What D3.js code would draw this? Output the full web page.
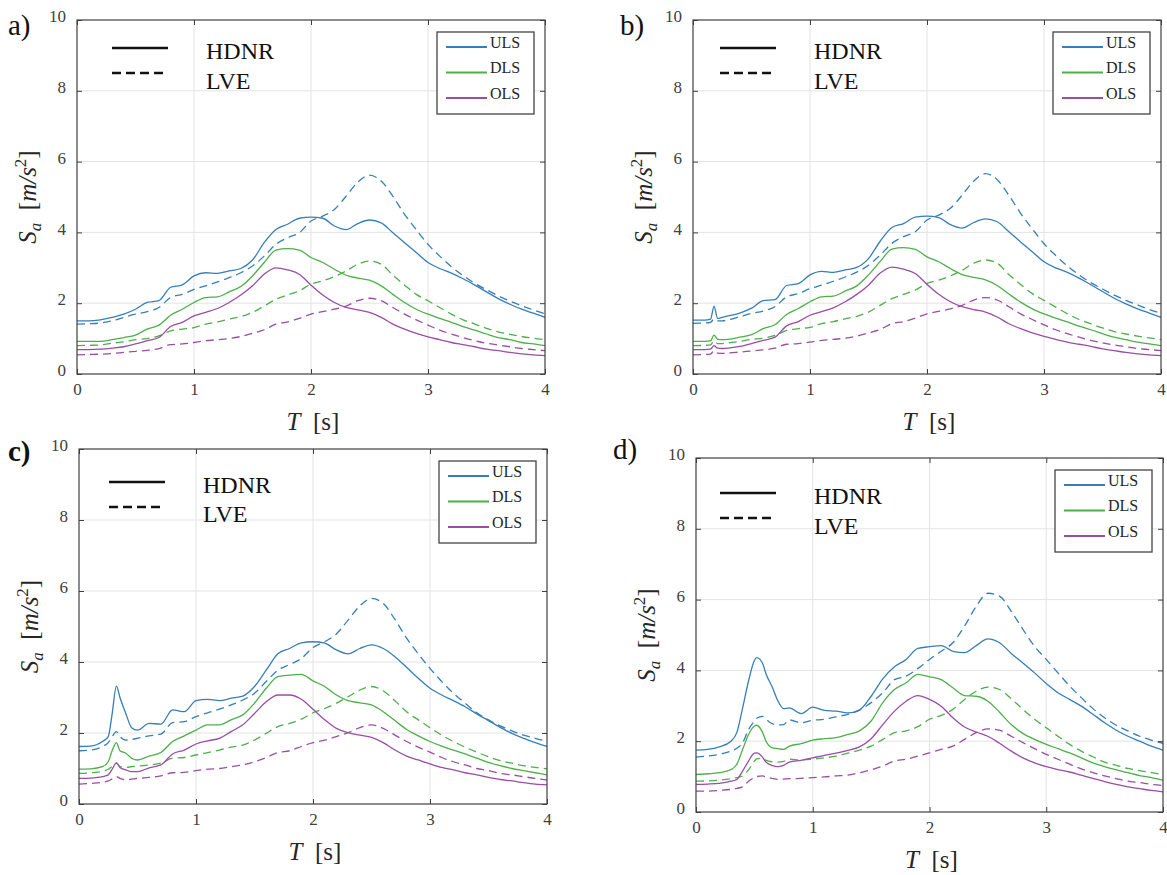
<!DOCTYPE html>
<html>
<head>
<meta charset="utf-8">
<script src="https://cdn.jsdelivr.net/npm/d3@7"></script>
<style>
	body { margin: 0; background: #fff; }
	.tick line { stroke: #404040; }
</style>
</head>
<body>
<div id="chart"></div>
<script>
// spectral acceleration Sa [m/s2] vs period T [s]
var limit_states = ["ULS", "DLS", "OLS"];
var state_colors = ["#377eb8", "#4daf4a", "#984ea3"];
var models = ["HDNR", "LVE"];
var x_ticks = [0, 1, 2, 3, 4];
var y_ticks = [0, 2, 4, 6, 8, 10];

// ---- panel a ----
var periods_a = [0,0.1,0.2,0.3,0.4,0.5,0.6,0.7,0.8,0.9,1,1.1,1.2,1.3,1.4,1.5,1.6,1.7,1.8,1.9,2,2.1,2.2,2.3,2.4,2.5,2.6,2.7,2.8,2.9,3,3.1,3.2,3.3,3.4,3.5,3.6,3.7,3.8,3.9,4];
var a_uls_hdnr = [1.50,1.50,1.53,1.60,1.69,1.83,2.02,2.07,2.45,2.52,2.77,2.86,2.84,2.91,2.98,3.22,3.71,4.08,4.23,4.40,4.43,4.40,4.18,4.08,4.25,4.35,4.27,3.99,3.71,3.43,3.15,2.98,2.85,2.69,2.51,2.32,2.13,1.97,1.83,1.72,1.60];
var a_uls_lve  = [1.41,1.42,1.44,1.50,1.60,1.69,1.76,1.88,2.16,2.25,2.39,2.49,2.60,2.72,2.86,3.05,3.33,3.66,3.85,3.99,4.32,4.46,4.65,5.02,5.42,5.62,5.45,5.02,4.51,4.08,3.66,3.33,3.03,2.78,2.56,2.38,2.21,2.06,1.93,1.81,1.70];
var a_dls_hdnr = [0.92,0.92,0.92,0.97,1.03,1.10,1.27,1.38,1.66,1.83,2.02,2.16,2.18,2.32,2.47,2.77,3.15,3.50,3.54,3.50,3.29,3.15,2.96,2.79,2.71,2.65,2.49,2.25,2.02,1.83,1.69,1.57,1.46,1.34,1.24,1.13,1.03,0.97,0.89,0.85,0.80];
var a_dls_lve  = [0.80,0.81,0.82,0.87,0.91,0.97,1.00,1.08,1.22,1.27,1.31,1.41,1.47,1.55,1.62,1.74,1.92,2.11,2.23,2.35,2.54,2.63,2.75,2.91,3.10,3.19,3.10,2.79,2.51,2.25,2.07,1.88,1.69,1.53,1.41,1.29,1.19,1.12,1.06,1.01,0.97];
var a_ols_hdnr = [0.69,0.69,0.70,0.73,0.77,0.85,0.94,1.03,1.34,1.46,1.64,1.74,1.85,2.02,2.23,2.49,2.82,3.00,2.94,2.82,2.51,2.23,2.02,1.88,1.81,1.74,1.60,1.41,1.27,1.15,1.05,0.97,0.89,0.83,0.77,0.70,0.66,0.61,0.57,0.54,0.52];
var a_ols_lve  = [0.54,0.55,0.56,0.58,0.61,0.64,0.67,0.72,0.83,0.85,0.89,0.94,0.97,1.00,1.06,1.15,1.25,1.41,1.47,1.57,1.69,1.76,1.83,1.92,2.07,2.14,2.07,1.88,1.69,1.53,1.38,1.24,1.13,1.03,0.94,0.87,0.82,0.77,0.72,0.69,0.66];

// ---- panel b ----
var periods_b = [0,0.1,0.15,0.18,0.21,0.25,0.3,0.4,0.5,0.6,0.7,0.8,0.9,1,1.1,1.2,1.3,1.4,1.5,1.6,1.7,1.8,1.9,2,2.1,2.2,2.3,2.4,2.5,2.6,2.7,2.8,2.9,3,3.1,3.2,3.3,3.4,3.5,3.6,3.7,3.8,3.9,4];
var b_uls_hdnr = [1.52,1.52,1.55,1.92,1.57,1.60,1.64,1.72,1.86,2.07,2.10,2.50,2.55,2.80,2.90,2.87,2.94,3.01,3.26,3.75,4.14,4.25,4.43,4.46,4.42,4.22,4.12,4.28,4.38,4.30,4.02,3.73,3.45,3.17,3.00,2.87,2.71,2.52,2.33,2.14,1.98,1.84,1.72,1.60];
var b_uls_lve  = [1.43,1.44,1.46,1.55,1.50,1.50,1.53,1.62,1.71,1.78,1.90,2.18,2.27,2.41,2.51,2.62,2.74,2.88,3.07,3.36,3.69,3.88,4.02,4.35,4.49,4.68,5.05,5.45,5.66,5.49,5.05,4.54,4.10,3.68,3.35,3.05,2.80,2.58,2.40,2.23,2.08,1.95,1.82,1.72];
var b_dls_hdnr = [0.92,0.92,0.94,1.10,0.98,0.97,0.98,1.04,1.11,1.28,1.39,1.68,1.85,2.04,2.18,2.20,2.34,2.49,2.80,3.18,3.53,3.57,3.52,3.31,3.17,2.98,2.81,2.73,2.66,2.50,2.26,2.03,1.84,1.70,1.58,1.47,1.35,1.25,1.14,1.04,0.97,0.90,0.85,0.80];
var b_dls_lve  = [0.80,0.81,0.82,0.94,0.86,0.86,0.88,0.92,0.98,1.01,1.09,1.23,1.28,1.32,1.42,1.48,1.56,1.63,1.75,1.94,2.13,2.25,2.37,2.56,2.65,2.77,2.93,3.13,3.22,3.13,2.81,2.53,2.27,2.08,1.89,1.70,1.54,1.42,1.30,1.20,1.13,1.07,1.02,0.97];
var b_ols_hdnr = [0.69,0.69,0.70,0.80,0.73,0.72,0.73,0.78,0.86,0.95,1.04,1.36,1.48,1.66,1.76,1.87,2.04,2.25,2.51,2.85,3.02,2.96,2.84,2.53,2.25,2.04,1.90,1.82,1.75,1.61,1.42,1.28,1.16,1.06,0.98,0.90,0.84,0.78,0.71,0.66,0.61,0.57,0.54,0.52];
var b_ols_lve  = [0.54,0.55,0.56,0.66,0.59,0.58,0.59,0.62,0.65,0.68,0.73,0.84,0.86,0.90,0.95,0.98,1.01,1.07,1.16,1.26,1.42,1.48,1.58,1.70,1.77,1.84,1.94,2.09,2.16,2.09,1.90,1.70,1.54,1.39,1.25,1.14,1.04,0.95,0.88,0.82,0.77,0.72,0.69,0.66];

// ---- panel c ----
var periods_c = [0,0.1,0.2,0.25,0.28,0.32,0.35,0.4,0.45,0.5,0.6,0.7,0.8,0.9,1,1.1,1.2,1.3,1.4,1.5,1.6,1.7,1.8,1.9,2,2.1,2.2,2.3,2.4,2.5,2.6,2.7,2.8,2.9,3,3.1,3.2,3.3,3.4,3.5,3.6,3.7,3.8,3.9,4];
var c_uls_hdnr = [1.62,1.63,1.76,1.90,2.46,3.32,3.00,2.55,2.15,2.08,2.27,2.25,2.65,2.60,2.91,2.95,2.91,2.98,3.04,3.31,3.77,4.23,4.38,4.54,4.57,4.53,4.34,4.23,4.38,4.48,4.38,4.15,3.85,3.54,3.26,3.07,2.91,2.74,2.54,2.35,2.16,1.99,1.85,1.73,1.62];
var c_uls_lve  = [1.50,1.52,1.62,1.73,1.88,2.04,1.90,1.80,1.82,1.85,1.92,1.97,2.29,2.32,2.46,2.57,2.67,2.79,2.93,3.12,3.45,3.77,3.93,4.10,4.41,4.57,4.79,5.18,5.58,5.79,5.65,5.20,4.67,4.23,3.82,3.45,3.12,2.84,2.57,2.37,2.20,2.06,1.94,1.85,1.76];
var c_dls_hdnr = [0.98,0.99,1.05,1.19,1.47,1.73,1.50,1.43,1.29,1.24,1.35,1.45,1.76,1.92,2.08,2.23,2.23,2.37,2.51,2.84,3.26,3.59,3.63,3.65,3.47,3.31,3.07,2.91,2.85,2.79,2.60,2.35,2.10,1.92,1.76,1.63,1.52,1.41,1.29,1.17,1.08,1.00,0.94,0.88,0.82];
var c_dls_lve  = [0.86,0.88,0.92,0.98,1.05,1.15,1.05,1.03,1.05,1.07,1.10,1.15,1.29,1.31,1.38,1.45,1.52,1.60,1.66,1.80,1.99,2.18,2.27,2.39,2.57,2.69,2.84,3.02,3.21,3.31,3.19,2.91,2.60,2.37,2.15,1.94,1.76,1.60,1.46,1.33,1.22,1.15,1.08,1.03,0.99];
var c_ols_hdnr = [0.72,0.73,0.77,0.82,0.96,1.16,1.03,0.96,0.91,0.91,1.02,1.10,1.41,1.52,1.69,1.78,1.85,2.04,2.23,2.55,2.88,3.07,3.07,2.95,2.67,2.37,2.13,2.01,1.94,1.88,1.73,1.52,1.35,1.24,1.13,1.03,0.96,0.88,0.82,0.75,0.69,0.65,0.60,0.56,0.54];
var c_ols_lve  = [0.56,0.58,0.61,0.65,0.70,0.77,0.72,0.68,0.70,0.72,0.75,0.79,0.88,0.89,0.94,0.98,1.00,1.05,1.10,1.19,1.31,1.45,1.50,1.62,1.73,1.80,1.90,2.01,2.15,2.23,2.13,1.94,1.76,1.60,1.46,1.31,1.19,1.10,1.00,0.94,0.86,0.82,0.77,0.72,0.68];

// ---- panel d ----
var periods_d = [0,0.1,0.2,0.3,0.35,0.4,0.45,0.5,0.52,0.57,0.6,0.65,0.7,0.75,0.8,0.9,1,1.1,1.2,1.3,1.4,1.5,1.6,1.7,1.8,1.9,2,2.1,2.2,2.3,2.4,2.5,2.6,2.7,2.8,2.9,3,3.1,3.2,3.3,3.4,3.5,3.6,3.7,3.8,3.9,4];
var d_uls_hdnr = [1.75,1.77,1.84,2.00,2.25,2.95,3.70,4.28,4.36,4.20,3.90,3.55,3.15,2.92,2.94,2.78,2.96,2.87,2.85,2.80,2.88,3.27,3.76,4.10,4.31,4.62,4.67,4.70,4.54,4.50,4.70,4.89,4.78,4.48,4.21,3.93,3.63,3.37,3.18,2.99,2.76,2.52,2.31,2.14,2.00,1.86,1.75];
var d_uls_lve  = [1.55,1.58,1.63,1.72,1.80,1.96,2.33,2.57,2.65,2.70,2.62,2.50,2.46,2.47,2.60,2.52,2.59,2.62,2.69,2.76,2.88,3.09,3.37,3.74,3.84,4.05,4.31,4.54,4.78,5.25,5.81,6.18,6.10,5.67,5.16,4.68,4.31,3.93,3.56,3.23,2.92,2.66,2.45,2.29,2.14,2.03,1.94];
var d_dls_hdnr = [1.06,1.08,1.11,1.20,1.35,1.77,2.19,2.43,2.45,2.25,2.00,1.82,1.79,1.77,1.86,1.93,2.03,2.07,2.10,2.19,2.29,2.57,3.09,3.46,3.65,3.89,3.82,3.74,3.51,3.29,3.27,3.13,2.82,2.47,2.22,2.05,1.91,1.79,1.67,1.53,1.39,1.28,1.19,1.11,1.03,0.97,0.90];
var d_dls_lve  = [0.87,0.88,0.90,0.94,0.97,1.02,1.19,1.44,1.50,1.52,1.46,1.42,1.41,1.43,1.49,1.47,1.49,1.53,1.58,1.66,1.75,1.86,2.05,2.24,2.29,2.41,2.62,2.73,2.90,3.18,3.41,3.53,3.46,3.20,2.90,2.62,2.38,2.14,1.91,1.72,1.56,1.41,1.32,1.23,1.17,1.11,1.06];
var d_ols_hdnr = [0.78,0.79,0.81,0.87,0.92,1.16,1.44,1.66,1.67,1.55,1.41,1.32,1.28,1.32,1.41,1.46,1.53,1.60,1.66,1.74,1.84,2.07,2.47,2.85,3.13,3.29,3.18,2.99,2.66,2.40,2.26,2.14,1.94,1.72,1.53,1.39,1.28,1.20,1.13,1.04,0.95,0.86,0.78,0.71,0.66,0.61,0.57];
var d_ols_lve  = [0.59,0.59,0.61,0.64,0.67,0.71,0.87,0.97,1.00,1.02,0.99,0.95,0.92,0.93,0.94,0.95,0.97,0.99,1.02,1.04,1.11,1.19,1.30,1.44,1.49,1.58,1.67,1.77,1.86,2.05,2.24,2.35,2.31,2.14,1.96,1.79,1.63,1.49,1.35,1.22,1.11,1.02,0.94,0.87,0.83,0.78,0.75];

// series order: [state][model]
var panels = [
	{ label: "a)", periods: periods_a, series: [[a_uls_hdnr, a_uls_lve], [a_dls_hdnr, a_dls_lve], [a_ols_hdnr, a_ols_lve]] },
	{ label: "b)", periods: periods_b, series: [[b_uls_hdnr, b_uls_lve], [b_dls_hdnr, b_dls_lve], [b_ols_hdnr, b_ols_lve]] },
	{ label: "c)", periods: periods_c, series: [[c_uls_hdnr, c_uls_lve], [c_dls_hdnr, c_dls_lve], [c_ols_hdnr, c_ols_lve]] },
	{ label: "d)", periods: periods_d, series: [[d_uls_hdnr, d_uls_lve], [d_dls_hdnr, d_dls_lve], [d_ols_hdnr, d_ols_lve]] }
];

// where each axes sits on the page
var layout = [
	{ left: 77,  right: 545,  top: 20,  bottom: 374, labX: 8,   labY: 35,  labW: "normal", legX: 112, legY: [28, 53], legTY: [39, 69] },
	{ left: 693, right: 1161, top: 20,  bottom: 374, labX: 620, labY: 35,  labW: "normal", legX: 720, legY: [28, 53], legTY: [39, 69] },
	{ left: 79,  right: 547,  top: 449, bottom: 804, labX: 8,   labY: 461, labW: "bold",   legX: 109, legY: [33, 58], legTY: [44, 73] },
	{ left: 696, right: 1163, top: 458, bottom: 812, labX: 613, labY: 459, labW: "normal", legX: 720, legY: [35, 60], legTY: [46, 76] }
];

var serif = "'Liberation Serif', 'Times New Roman', 'DejaVu Serif', serif";
var dash = "8,5";

var svg = d3.select("#chart")
	.append("svg")
	.attr("width", 1167)
	.attr("height", 875)
	.style("display", "block");

panels.forEach(function(p, i) { draw_panel(p, layout[i]); });

function draw_panel(p, box) {
	var g = svg.append("g");

	var x = d3.scaleLinear().domain([0, 4]).range([box.left, box.right]);
	var y = d3.scaleLinear().domain([0, 10]).range([box.bottom, box.top]);

	// grid
	g.selectAll(".xgrid").data(x_ticks.slice(1, -1)).enter().append("line")
		.attr("x1", function(d) { return x(d); }).attr("x2", function(d) { return x(d); })
		.attr("y1", box.top).attr("y2", box.bottom)
		.style("stroke", "#e3e3e3").style("stroke-width", 1);
	g.selectAll(".ygrid").data(y_ticks.slice(1, -1)).enter().append("line")
		.attr("y1", function(d) { return y(d); }).attr("y2", function(d) { return y(d); })
		.attr("x1", box.left).attr("x2", box.right)
		.style("stroke", "#e3e3e3").style("stroke-width", 1);

	// curves
	var line = d3.line()
		.x(function(d) { return x(d[0]); })
		.y(function(d) { return y(d[1]); })
		.curve(d3.curveMonotoneX);

	p.series.forEach(function(pair, s) {
		pair.forEach(function(vals, m) {
			g.append("path")
				.datum(d3.zip(p.periods, vals))
				.attr("d", line)
				.style("fill", "none")
				.style("stroke", state_colors[s])
				.style("stroke-width", 1.3)
				.style("stroke-dasharray", m == 1 ? dash : null);
		});
	});

	// axes, matlab style: ticks inside, box all round
	var fmt = d3.format("d");
	var xAxis = d3.axisBottom(x).tickValues(x_ticks).tickFormat(fmt).tickSize(-5).tickSizeOuter(0).tickPadding(9);
	var yAxis = d3.axisLeft(y).tickValues(y_ticks).tickFormat(fmt).tickSize(-5).tickSizeOuter(0).tickPadding(11);

	var xa = g.append("g").attr("transform", "translate(0," + box.bottom + ")").call(xAxis);
	var ya = g.append("g").attr("transform", "translate(" + box.left + ",0)").call(yAxis);
	ya.selectAll(".tick text").attr("dy", "0.1em");
	[xa, ya].forEach(function(a) {
		a.attr("font-family", null).attr("font-size", null);
		a.selectAll(".tick text")
			.style("font-family", serif).style("font-size", "17px").style("fill", "#404040");
	});
	g.append("g").attr("transform", "translate(0," + box.top + ")")
		.call(d3.axisTop(x).tickValues(x_ticks).tickSize(-5).tickSizeOuter(0).tickFormat(""));
	g.append("g").attr("transform", "translate(" + box.right + ",0)")
		.call(d3.axisRight(y).tickValues(y_ticks).tickSize(-5).tickSizeOuter(0).tickFormat(""));
	g.selectAll(".domain").remove();

	g.append("rect")
		.attr("x", box.left).attr("y", box.top)
		.attr("width", box.right - box.left).attr("height", box.bottom - box.top)
		.style("fill", "none").style("stroke", "#404040").style("stroke-width", 1.2);

	// axis labels
	var xl = g.append("text")
		.attr("x", (box.left + box.right) / 2 + 2).attr("y", box.bottom + 56)
		.attr("text-anchor", "middle")
		.style("font-family", serif).style("font-size", "25px").style("fill", "#262626");
	xl.append("tspan").style("font-style", "italic").text("T");
	xl.append("tspan").text("\u2002[s]");

	var yl = g.append("text")
		.attr("transform", "translate(" + (box.left - 41) + "," + ((box.top + box.bottom) / 2) + ") rotate(-90)")
		.attr("text-anchor", "middle")
		.style("font-family", serif).style("font-size", "25px").style("fill", "#262626");
	yl.append("tspan").style("font-style", "italic").text("S");
	yl.append("tspan").style("font-style", "italic").style("font-size", "17px").attr("dy", 5).text("a");
	yl.append("tspan").attr("dy", -5).text("\u2002[");
	yl.append("tspan").style("font-style", "italic").text("m/s");
	yl.append("tspan").style("font-size", "17px").attr("dy", -10).text("2");
	yl.append("tspan").attr("dy", 10).text("]");

	// panel letter
	g.append("text")
		.attr("x", box.labX).attr("y", box.labY)
		.style("font-family", serif).style("font-size", "29px")
		.style("font-weight", box.labW).style("fill", "#111")
		.text(p.label);

	// legend for the two models (line style)
	models.forEach(function(name, m) {
		g.append("line")
			.attr("x1", box.legX).attr("x2", box.legX + (m == 0 ? 56 : 51))
			.attr("y1", box.top + box.legY[m]).attr("y2", box.top + box.legY[m])
			.style("stroke", "#111").style("stroke-width", 2.5)
			.style("stroke-dasharray", m == 1 ? "9,5" : null);
		g.append("text")
			.attr("x", box.legX + 94).attr("y", box.top + box.legTY[m])
			.style("font-family", serif).style("font-size", "24px").style("fill", "#111")
			.text(name);
	});

	// legend for limit states (boxed)
	var bx = box.right - 108, by = box.top + 12;
	g.append("rect")
		.attr("x", bx).attr("y", by).attr("width", 97).attr("height", 82)
		.style("fill", "#fff").style("stroke", "#444").style("stroke-width", 1.3);
	limit_states.forEach(function(name, s) {
		var ly = by + 15 + s * 25.5;
		g.append("line")
			.attr("x1", bx + 9).attr("x2", bx + 50)
			.attr("y1", ly).attr("y2", ly)
			.style("stroke", state_colors[s]).style("stroke-width", 1.8);
		g.append("text")
			.attr("x", bx + 53).attr("y", ly + 0.5)
			.style("font-family", serif).style("font-size", "16px").style("fill", "#262626")
			.text(name);
	});
}
</script>
</body>
</html>
